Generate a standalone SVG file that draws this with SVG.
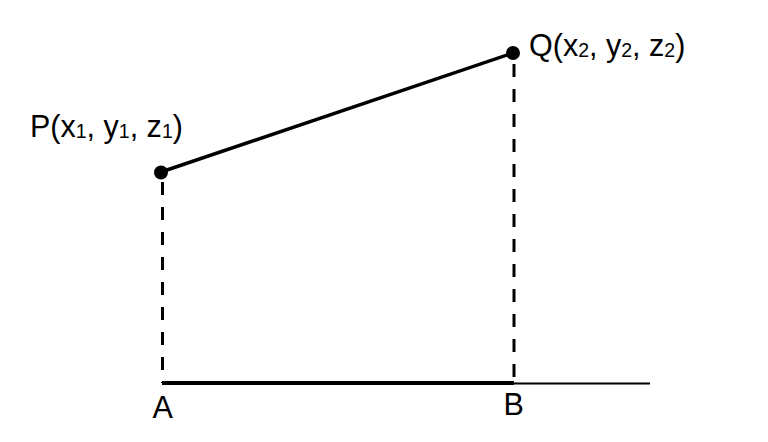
<svg xmlns="http://www.w3.org/2000/svg" width="768" height="442" viewBox="0 0 768 442">
<style>
.lbl{font-family:"Liberation Sans",Arial,sans-serif;font-size:30.5px;fill:#000}
.sub{font-size:19.5px}
.dash{stroke:#000;stroke-width:3;stroke-dasharray:13 12;fill:none}
</style>
<rect width="768" height="442" fill="#fff"/>
<g id="connectors">
<line x1="162.5" y1="182" x2="162.5" y2="383" class="dash"/>
<line x1="514" y1="64" x2="514" y2="383" class="dash"/>
<line x1="161" y1="172" x2="513" y2="53" stroke="#000" stroke-width="3.5"/>
<line x1="514" y1="383.5" x2="650" y2="383.5" stroke="#000" stroke-width="2"/>
<line x1="162" y1="383" x2="514" y2="383" stroke="#000" stroke-width="4"/>
</g>
<g id="P">
<circle cx="161" cy="172.5" r="7" fill="#000"/>
<text class="lbl" x="30" y="137">P(x<tspan class="sub" dy="1">1</tspan><tspan dy="-1">, y</tspan><tspan class="sub" dy="1">1</tspan><tspan dy="-1">, z</tspan><tspan class="sub" dy="1">1</tspan><tspan dy="-1">)</tspan></text>
</g>
<g id="Q">
<circle cx="513" cy="53" r="7" fill="#000"/>
<text class="lbl" x="529" y="56">Q(x<tspan class="sub" dy="1">2</tspan><tspan dy="-1">, y</tspan><tspan class="sub" dy="1">2</tspan><tspan dy="-1">, z</tspan><tspan class="sub" dy="1">2</tspan><tspan dy="-1">)</tspan></text>
</g>
<g id="A"><text class="lbl" x="152.5" y="418">A</text></g>
<g id="B"><text class="lbl" x="503.5" y="415">B</text></g>
</svg>
